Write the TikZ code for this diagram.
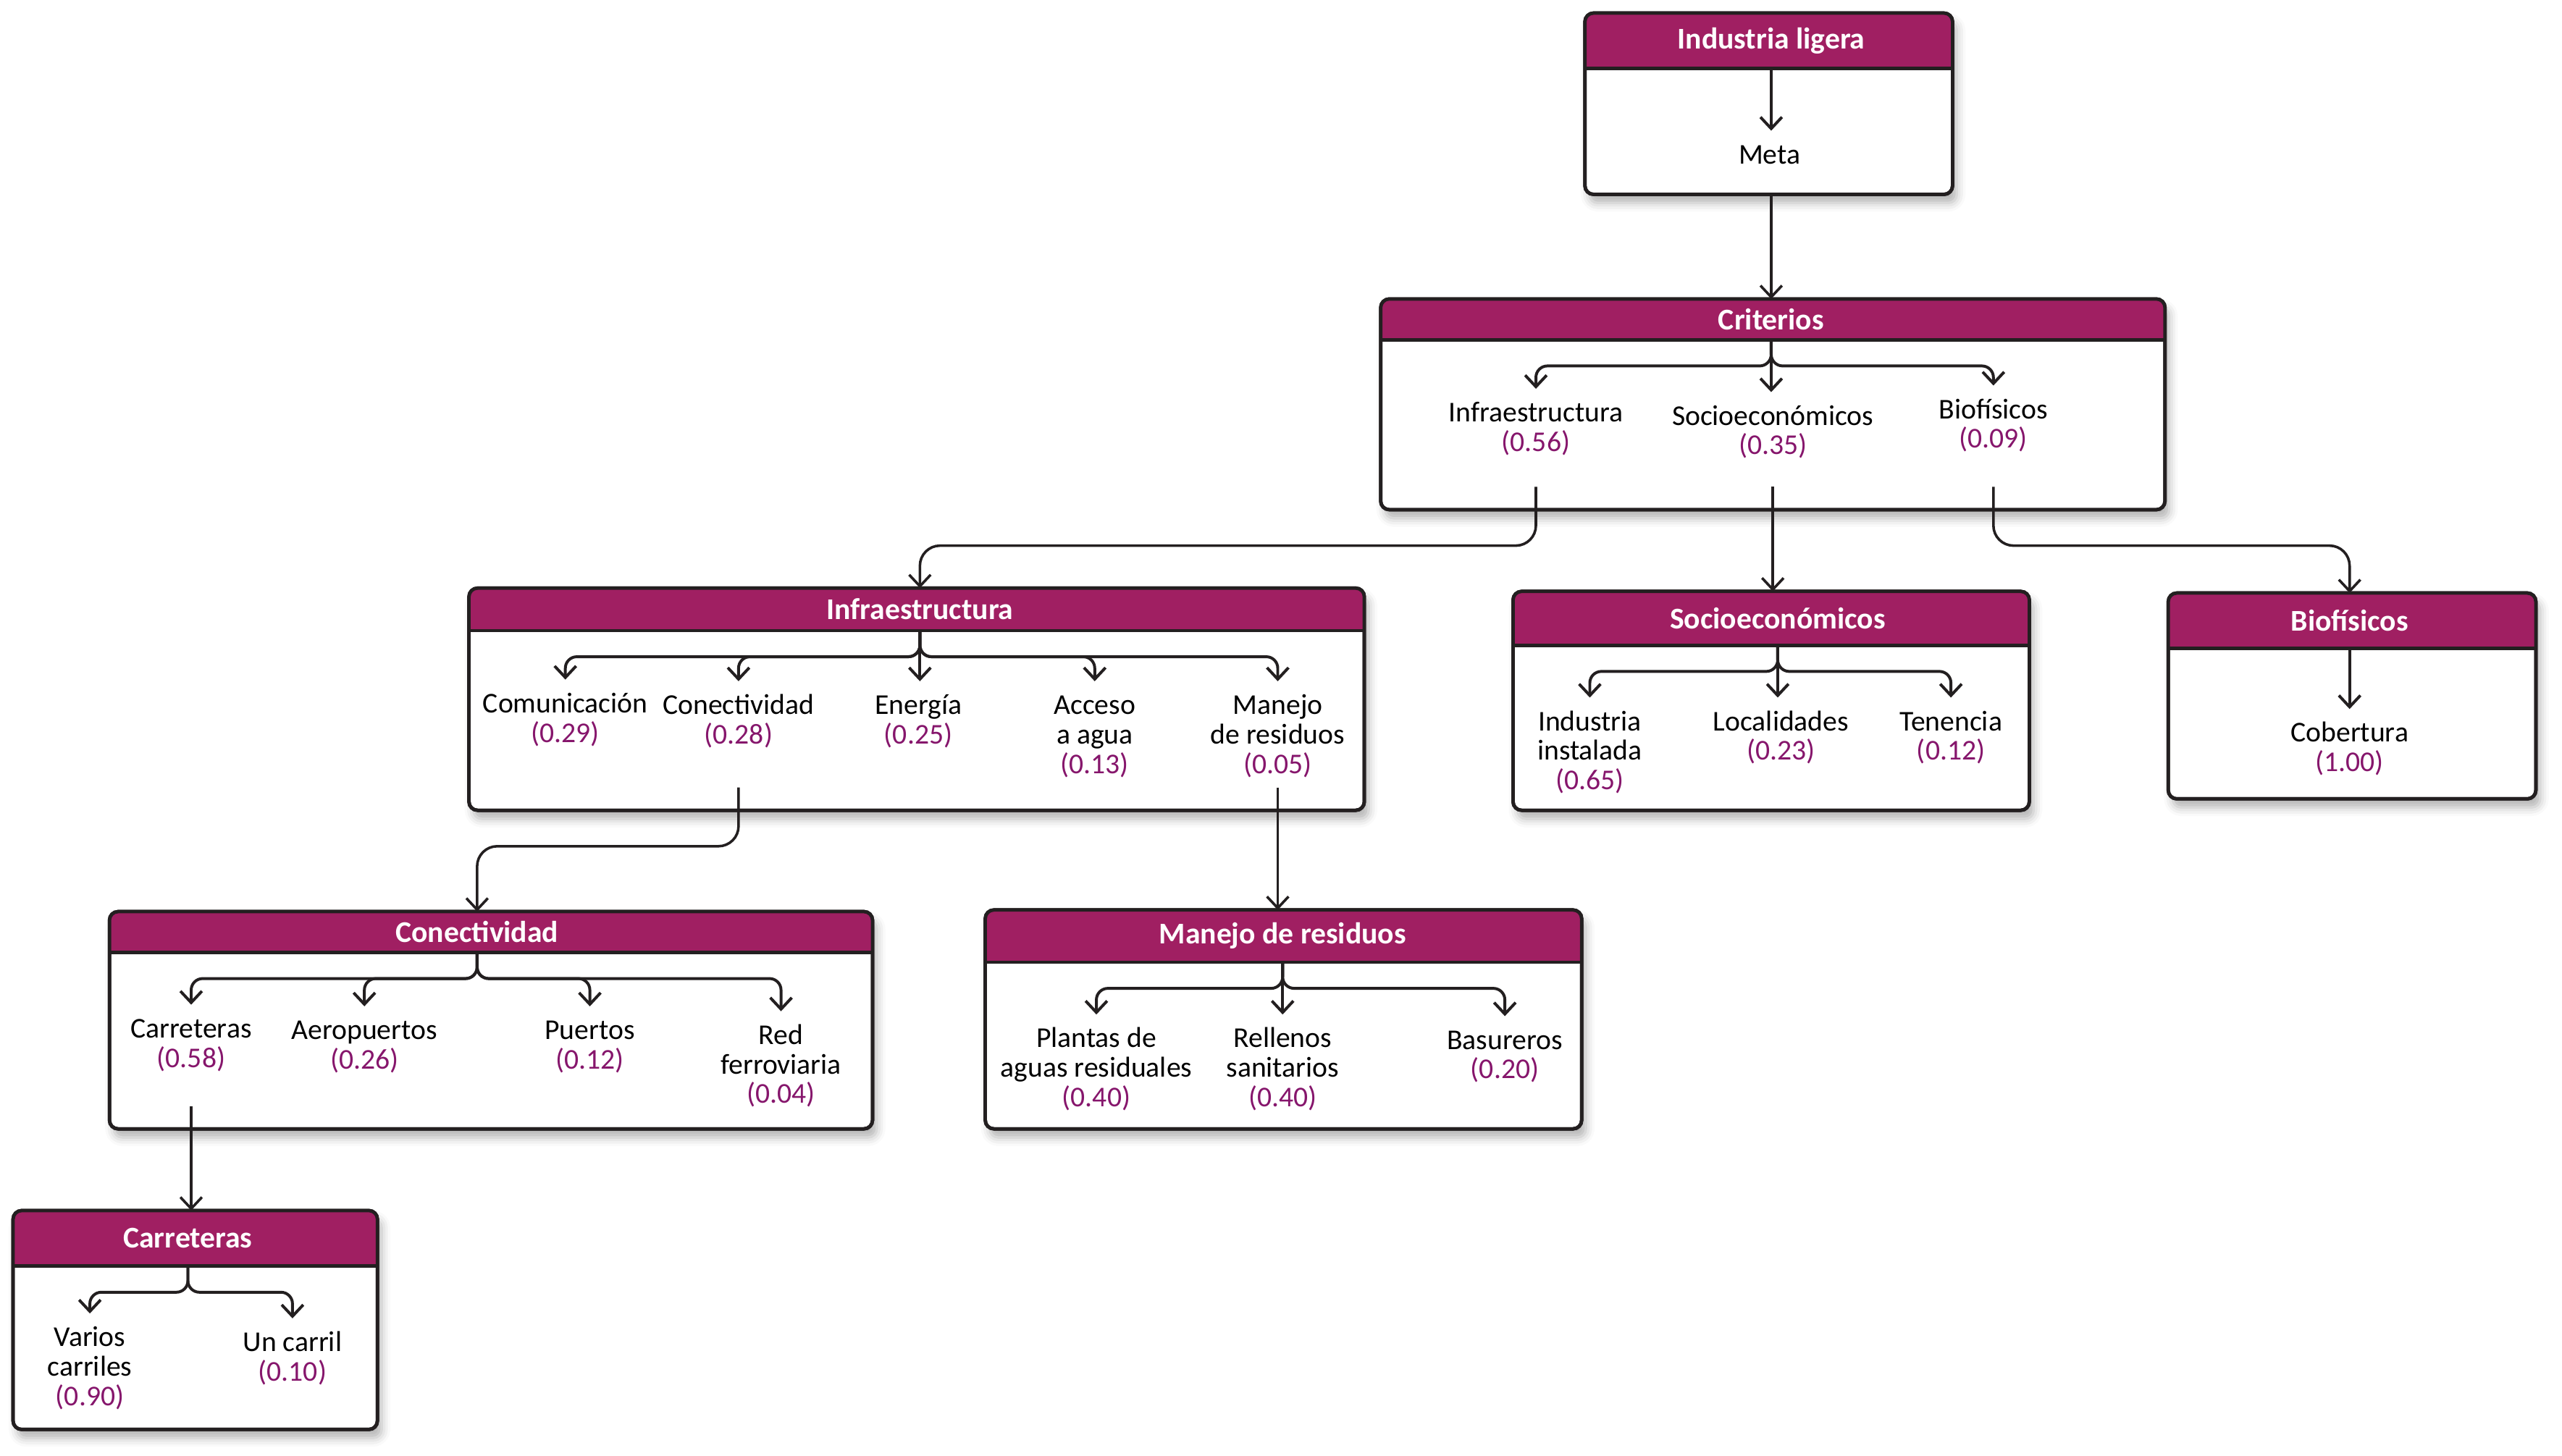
\documentclass[tikz,border=0pt]{standalone}
\usepackage{fontspec}
\setmainfont{Carlito}
\definecolor{ahpmagenta}{RGB}{160,31,98}
\definecolor{ahpweight}{RGB}{134,22,108}
\definecolor{ahpgray}{RGB}{35,31,32}
\usetikzlibrary{arrows.meta,positioning,fit,shadows.blur}

\newcommand{\wt}[1]{\textcolor{ahpweight}{(#1)}}
\newcommand{\lead}{\rule{0pt}{10.3pt}}
% name, left, top, right, bottom, header bottom, stem x, title
\newcommand{\panel}[8]{%
  \node[panel,fit={(#2,#3) (#4,#5)}] (#1) {};
  \begin{scope}
    \clip[rounded corners=3pt] (#1.south west) rectangle (#1.north east);
    \fill[ahpmagenta] (#2,#3) rectangle (#4,#6);
  \end{scope}
  \draw[ahpgray,line width=1.2pt] (#2,#6) -- (#4,#6);
  \draw[ahpgray,line width=1.2pt,rounded corners=3pt] (#1.south west) rectangle (#1.north east);
  \node[paneltitle] (#1-t) at (#7,{(#3+#6)/2}) {#8};
  \coordinate (#1-h) at (#7,#6);
}

\begin{document}
\begin{tikzpicture}[
  x=0.02cm, y=-0.02cm,
  every node/.style={font=\fontsize{10}{10.3}\selectfont},
  panel/.style={draw=ahpgray,line width=1.2pt,fill=white,rounded corners=3pt,
                inner sep=0pt,outer sep=0pt,
                blur shadow={shadow xshift=1.5pt,shadow yshift=-3pt,
                             shadow blur radius=3pt,shadow opacity=30}},
  paneltitle/.style={text=white,font=\fontsize{10.5}{11}\selectfont\bfseries},
  item/.style={align=center,anchor=north,inner sep=1pt},
  branch/.style={draw=ahpgray,line width=1pt,rounded corners=4pt,
                 -{Straight Barb[length=4pt,width=7.5pt]}},
  link/.style={draw=ahpgray,line width=0.9pt,rounded corners=7pt,
               -{Straight Barb[length=4pt,width=7.5pt]}},
]
  \useasboundingbox (0,0) rectangle (1568,891);

  % Goal
  \panel{lig}{970}{8}{1195}{119}{42}{1084}{Industria ligera}
  \node[item] (lig-meta) at (1083,80) {\lead Meta};

  % Criteria
  \panel{cri}{845}{183}{1325}{312}{208}{1084}{Criterios}
  \node[item] (cri-inf) at (940,238) {\lead Infraestructura\\\wt{0.56}};
  \node[item] (cri-soc) at (1085,240) {\lead Socioeconómicos\\\wt{0.35}};
  \node[item] (cri-bio) at (1220,236) {\lead Biofísicos\\\wt{0.09}};

  % Infraestructura
  \panel{inf}{287}{360}{835}{496}{386}{563}{Infraestructura}
  \node[item] (inf-com) at (346,416) {\lead Comunicación\\\wt{0.29}};
  \node[item] (inf-con) at (452,417) {\lead Conectividad\\\wt{0.28}};
  \node[item] (inf-ene) at (562,417) {\lead Energía\\\wt{0.25}};
  \node[item] (inf-acc) at (670,417) {\lead Acceso\\a agua\\\wt{0.13}};
  \node[item] (inf-man) at (782,417) {\lead Manejo\\de residuos\\\wt{0.05}};

  % Socioeconomicos
  \panel{soc}{926}{362}{1242}{496}{395}{1088}{Socioeconómicos}
  \node[item] (soc-ind) at (973,427) {\lead Industria\\instalada\\\wt{0.65}};
  \node[item] (soc-loc) at (1090,427) {\lead Localidades\\\wt{0.23}};
  \node[item] (soc-ten) at (1194,427) {\lead Tenencia\\\wt{0.12}};

  % Biofisicos
  \panel{bio}{1327}{363}{1552}{489}{397}{1438}{Biofísicos}
  \node[item] (bio-cob) at (1438,434) {\lead Cobertura\\\wt{1.00}};

  % Conectividad
  \panel{con}{67}{558}{534}{691}{583}{292}{Conectividad}
  \node[item] (con-car) at (117,615) {\lead Carreteras\\\wt{0.58}};
  \node[item] (con-aer) at (223,616) {\lead Aeropuertos\\\wt{0.26}};
  \node[item] (con-pue) at (361,616) {\lead Puertos\\\wt{0.12}};
  \node[item] (con-red) at (478,619) {\lead Red\\ferroviaria\\\wt{0.04}};

  % Manejo de residuos
  \panel{man}{603}{557}{968}{691}{589}{785}{Manejo de residuos}
  \node[item] (man-pla) at (671,621) {\lead Plantas de\\aguas residuales\\\wt{0.40}};
  \node[item] (man-rel) at (785,621) {\lead Rellenos\\sanitarios\\\wt{0.40}};
  \node[item] (man-bas) at (921,622) {\lead Basureros\\\wt{0.20}};

  % Carreteras
  \panel{car}{8}{741}{231}{875}{775}{115}{Carreteras}
  \node[item] (car-var) at (55,804) {\lead Varios\\carriles\\\wt{0.90}};
  \node[item] (car-unc) at (179,807) {\lead Un carril\\\wt{0.10}};

  % Branches inside the boxes
  \draw[branch] (lig-h) -- (lig-h |- lig-meta.north);
  \draw[branch] (cri-h) -- (cri-h |- cri-soc.north);
  \foreach \c in {inf,bio}
    \draw[branch] (cri-h) -- ++(0,16) -| (cri-\c.north);
  \draw[branch] (inf-h) -- (inf-h |- inf-ene.north);
  \foreach \c in {com,con,acc,man}
    \draw[branch] (inf-h) -- ++(0,16) -| (inf-\c.north);
  \draw[branch] (soc-h) -- (soc-h |- soc-loc.north);
  \foreach \c in {ind,ten}
    \draw[branch] (soc-h) -- ++(0,16) -| (soc-\c.north);
  \draw[branch] (bio-h) -- (bio-h |- bio-cob.north);
  \foreach \c in {car,aer,pue,red}
    \draw[branch] (con-h) -- ++(0,16) -| (con-\c.north);
  \draw[branch] (man-h) -- (man-h |- man-rel.north);
  \foreach \c in {pla,bas}
    \draw[branch] (man-h) -- ++(0,16) -| (man-\c.north);
  \foreach \c in {var,unc}
    \draw[branch] (car-h) -- ++(0,16) -| (car-\c.north);

  % Links between boxes
  \draw[link] (lig-h |- lig.south) -- (lig-h |- cri.north);
  \draw[link] ([yshift=.28cm]cri-inf |- cri.south) -- ++(0,36) -| (inf-h |- inf.north);
  \draw[link] ([yshift=.28cm]cri-soc |- cri.south) -- (cri-soc |- soc.north);
  \draw[link] ([yshift=.28cm]cri-bio |- cri.south) -- ++(0,36) -| (bio-h |- bio.north);
  \draw[link] ([yshift=.28cm]inf-con |- inf.south) -- ++(0,36) -| (con-h |- con.north);
  \draw[link] ([yshift=.28cm]inf-man |- inf.south) -- (inf-man |- man.north);
  \draw[link] ([yshift=.28cm]con-car |- con.south) -- (con-car |- car.north);
\end{tikzpicture}
\end{document}
